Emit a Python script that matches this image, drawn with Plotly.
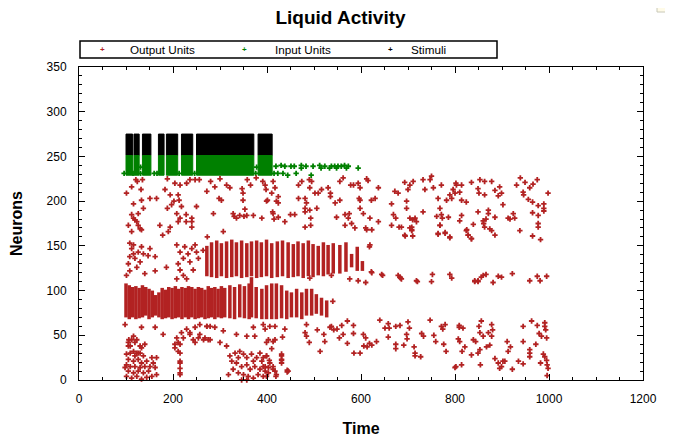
import plotly.graph_objects as go

# ---------------- data ----------------
# Stimuli neurons fire in blocks: start / end times; neuron span
stim_start = [100, 117, 135, 169, 186, 218, 250, 381]
stim_end = [114, 128, 153, 181, 210, 242, 372, 411]
stim_lo, stim_hi = 251, 275

# Input units: dense blocks (same time blocks) + sparse spikes
input_lo, input_hi = 229, 251
input_sparse = [(96, 231), (115, 231), (131, 231), (131, 238), (160, 231), (166, 231),
                (213, 231), (246, 231), (376, 231), (378, 238), (415, 231),
                (419, 239), (423, 231), (430, 240), (434, 231), (438, 239), (444, 229),
                (451, 239), (458, 239), (462, 231), (473, 240), (473, 237), (483, 239),
                (494, 229), (498, 239), (512, 240), (515, 237), (523, 239), (533, 237),
                (537, 239), (544, 239), (548, 237), (551, 239), (558, 239), (565, 240),
                (569, 237), (573, 239), (594, 237)]

# Output units: dense burst columns (time, lowest neuron, highest neuron)
band1_t = [100, 107, 114, 121, 128, 135, 142, 149, 156, 163, 170, 177, 184, 191, 198,
           205, 212, 219, 226, 233, 240, 247, 254, 261, 268, 275, 282, 289, 296, 303,
           310, 321, 331, 342, 352, 362, 367, 377, 389, 399, 410, 420, 431, 442, 452,
           463, 474, 484, 495, 505, 516, 527]
band1_lo = [70, 68, 70, 68, 69, 70, 72, 68, 70, 72, 70, 68, 69, 70, 68,
            69, 70, 68, 70, 68, 70, 68, 69, 70, 68, 69, 70, 68, 70, 69,
            70, 69, 68, 70, 69, 68, 70, 69, 68, 68, 68, 68, 69, 68, 70,
            70, 68, 72, 72, 74, 72, 70]
band1_hi = [108, 106, 104, 105, 103, 106, 104, 102, 100, 95, 98, 103, 101, 104, 103,
            105, 102, 104, 103, 105, 104, 102, 104, 103, 101, 105, 103, 104, 102, 105,
            103, 106, 104, 107, 105, 108, 115, 104, 102, 106, 108, 108, 106, 100, 98,
            102, 98, 102, 102, 96, 92, 89]

band2_t = [272, 282, 293, 303, 314, 325, 335, 346, 357, 367, 378, 388, 399, 410, 422,
           433, 445, 456, 466, 477, 488, 498, 509, 520, 530, 541, 555, 568, 580, 592, 603]
band2_lo = [116, 115, 114, 116, 114, 115, 116, 114, 115, 116, 114, 115, 116, 114, 115,
            116, 114, 115, 116, 114, 116, 115, 117, 116, 118, 119, 119, 121, 126, 122, 122]
band2_hi = [150, 154, 156, 153, 155, 157, 154, 156, 153, 155, 156, 154, 157, 153, 155,
            156, 154, 152, 155, 153, 156, 152, 150, 154, 151, 153, 151, 154, 141, 149, 133]

# Output units: isolated spikes (time, neuron)
output_upper = [
    (101, 209), (112, 216), (121, 224), (132, 213), (135, 224), (124, 222), (133, 201),
    (137, 192), (151, 203), (116, 197), (112, 185), (116, 181), (119, 179), (126, 186),
    (123, 177), (126, 173), (130, 169), (133, 168), (105, 173), (112, 166), (165, 203),
    (178, 162), (172, 173), (183, 213), (188, 225), (194, 207), (188, 192), (197, 196),
    (204, 220), (202, 200), (211, 207), (215, 218), (213, 201), (208, 186), (218, 194),
    (215, 181), (211, 177), (229, 220), (228, 185), (228, 177), (240, 177), (240, 171),
    (240, 181), (236, 224), (247, 224), (250, 194), (256, 224), (272, 211), (273, 160),
    (286, 186), (289, 216), (298, 203), (303, 201), (307, 166), (321, 215), (328, 186),
    (330, 183), (335, 181), (342, 184), (347, 214), (349, 209), (349, 201), (353, 191),
    (351, 183), (357, 184), (371, 184), (377, 226), (389, 181), (391, 222), (398, 213),
    (399, 200), (410, 209), (412, 188), (415, 180), (420, 200), (358, 224), (365, 218),
    (314, 218), (300, 225), (280, 222), (194, 171), (190, 166),
    (396, 218), (401, 201), (413, 222), (417, 215), (424, 205), (424, 198), (413, 186),
    (424, 182), (438, 177), (450, 185), (459, 185), (467, 203), (467, 218), (474, 222),
    (481, 203), (481, 192), (481, 188), (481, 171), (490, 224), (491, 215), (495, 222),
    (484, 198), (491, 190), (493, 181), (493, 173), (502, 209), (506, 192), (509, 209),
    (516, 213), (530, 215), (535, 209), (535, 205), (545, 198), (548, 182), (555, 222),
    (555, 201), (562, 226), (566, 185), (573, 181), (575, 186), (578, 218), (584, 218),
    (594, 220), (598, 215), (596, 203), (598, 201), (580, 175), (587, 170), (598, 192),
    (605, 186), (612, 225), (615, 223), (610, 170), (619, 181), (622, 201), (630, 203),
    (637, 215), (637, 177), (665, 197), (669, 185), (672, 211), (674, 181), (679, 209),
    (681, 171), (693, 221), (697, 200), (697, 192), (700, 213), (704, 218), (704, 181),
    (708, 171), (711, 222), (710, 179), (708, 168), (693, 162), (715, 181), (718, 177),
    (732, 224), (736, 213), (732, 188), (747, 224), (750, 228), (754, 215), (764, 203),
    (768, 192), (761, 183), (771, 218), (771, 185), (773, 181), (786, 182), (782, 201),
    (789, 207), (796, 213), (803, 218), (768, 173), (764, 164), (779, 164), (789, 160),
    (566, 173), (612, 168), (623, 168), (665, 173), (686, 171), (704, 170), (708, 167),
    (694, 161), (710, 161), (768, 173), (764, 163), (779, 165), (789, 159), (825, 168),
    (828, 162), (835, 158),
    (802, 220), (810, 210), (814, 218), (800, 209), (793, 203), (814, 201), (824, 199),
    (835, 221), (853, 224), (863, 222), (878, 222), (849, 214), (851, 209), (863, 207),
    (885, 212), (895, 216), (899, 209), (892, 206), (902, 196), (814, 184), (810, 178),
    (824, 167), (828, 162), (835, 158), (839, 174), (849, 188), (860, 178), (861, 175),
    (863, 171), (866, 180), (871, 190), (871, 186), (874, 169), (878, 167), (885, 162),
    (885, 182), (913, 181), (917, 180), (924, 186), (927, 181), (938, 167), (931, 218),
    (939, 226), (949, 221), (945, 210), (946, 207), (956, 202), (959, 215), (966, 219),
    (975, 224), (965, 199), (977, 195), (989, 197), (989, 192), (989, 189), (998, 209),
    (965, 187), (977, 184), (977, 175), (977, 171), (965, 161), (982, 157)]

output_middle = [
    (108, 153), (112, 147), (116, 141), (108, 138), (119, 136), (126, 143), (133, 149),
    (137, 141), (130, 132), (105, 130), (123, 126), (151, 147), (147, 139), (162, 138),
    (162, 122), (186, 126), (140, 119), (108, 122), (101, 117), (116, 151),
    (208, 151), (215, 143), (225, 149), (232, 141), (240, 147), (247, 151), (250, 143),
    (222, 136), (211, 130), (236, 132), (215, 123), (222, 117), (229, 113), (243, 123),
    (254, 136), (264, 145), (208, 113),
    (618, 149), (619, 151), (622, 121), (644, 118), (683, 115), (686, 113), (718, 111),
    (750, 110), (752, 118), (789, 118), (793, 114), (491, 114), (537, 117), (576, 113),
    (594, 111), (610, 109), (623, 120), (646, 117), (679, 117), (684, 114), (720, 110),
    (842, 110), (849, 110), (540, 88),
    (842, 111), (849, 111), (856, 115), (860, 117), (866, 118), (881, 109), (892, 116),
    (899, 115), (922, 119), (959, 111), (975, 116), (981, 111), (995, 116)]

output_lower = [
    (98, 62), (106, 45), (105, 38), (116, 49), (123, 45), (133, 36), (126, 30), (133, 59),
    (162, 59), (179, 51), (211, 42), (204, 36), (215, 30), (222, 47), (229, 57), (236, 53),
    (247, 59), (257, 62), (272, 60), (243, 45), (254, 47), (268, 47), (279, 45), (289, 59),
    (307, 55), (300, 42), (314, 38), (335, 51), (357, 49), (371, 59), (374, 49), (396, 57),
    (403, 45), (215, 8), (215, 13),
    (571, 66), (640, 67), (651, 58), (658, 63), (660, 58), (674, 60), (683, 61), (700, 65),
    (703, 58), (747, 67), (729, 52), (733, 49), (774, 57), (771, 60), (779, 62), (809, 61),
    (392, 62), (406, 60), (417, 60), (438, 57), (484, 62), (481, 53), (484, 49), (490, 42),
    (513, 32), (507, 56), (521, 51), (523, 43), (534, 59), (537, 60), (542, 56), (549, 57),
    (554, 47), (559, 61), (562, 51), (571, 41), (584, 61), (584, 52), (585, 30), (598, 30),
    (605, 51), (610, 47), (606, 38), (613, 37), (618, 41), (623, 39), (633, 43), (658, 48),
    (674, 40), (674, 35), (691, 39), (698, 46), (697, 51), (713, 37), (715, 30), (715, 27),
    (727, 26), (755, 50), (759, 43), (776, 40), (781, 32), (807, 46), (802, 15),
    (399, 42), (410, 35), (413, 43), (417, 45), (433, 48), (385, 30), (392, 25), (399, 27),
    (405, 22), (431, 27), (431, 22), (431, 19), (443, 11), (443, 9), (392, 15), (403, 14),
    (413, 15), (417, 10), (419, 4), (399, 4), (396, 10),
    (101, 29), (109, 30), (119, 27), (130, 30), (137, 27), (105, 23), (116, 21), (126, 23),
    (133, 19), (144, 21), (155, 25), (109, 15), (119, 15), (130, 14), (140, 15), (151, 15),
    (162, 14), (105, 10), (116, 8), (126, 10), (137, 8), (148, 10), (112, 2), (123, 4),
    (133, 1), (144, 3), (155, 4), (165, 6), (101, 17), (101, 4), (98, 14), (158, 19),
    (165, 25), (112, 45), (109, 38), (119, 42), (130, 38), (140, 40), (105, 42), (116, 32),
    (123, 30),
    (321, 27), (332, 30), (342, 32), (350, 29), (357, 25), (367, 29), (378, 25), (389, 21),
    (399, 27), (325, 21), (335, 19), (346, 15), (357, 17), (364, 12), (374, 15), (385, 12),
    (396, 15), (328, 12), (339, 8), (350, 6), (360, 4), (371, 2), (381, 6), (392, 4),
    (346, 0), (357, 0), (403, 8), (406, 19), (413, 12), (420, 6), (431, 29), (431, 23),
    (445, 10), (318, 6), (339, 25), (371, 21),
    (208, 47), (204, 40), (215, 40), (211, 32), (215, 21), (215, 19), (218, 53), (247, 42),
    (257, 51), (265, 45), (275, 45), (279, 60), (272, 60), (236, 51), (215, 6),
    (809, 59), (817, 58), (810, 43), (821, 37), (815, 32), (800, 14), (814, 17), (835, 28),
    (839, 45), (844, 43), (849, 30), (853, 34), (851, 60), (856, 66), (853, 53), (860, 49),
    (867, 37), (871, 53), (878, 62), (880, 56), (878, 49), (874, 39), (854, 17), (885, 24),
    (892, 19), (899, 15), (902, 21), (906, 21), (895, 13), (911, 43), (918, 37), (913, 32),
    (922, 12), (935, 21), (945, 18), (945, 43), (945, 60), (959, 34), (959, 30), (959, 26),
    (963, 66), (972, 40), (975, 61), (979, 52), (982, 19), (984, 49), (988, 29), (991, 64),
    (991, 60), (993, 56), (995, 47), (991, 26), (995, 22), (996, 17), (998, 13), (996, 5)]

legend_names = ["Output Units", "Input Units", "Stimuli"]

RED = "#B22222"
GREEN = "#008000"
BLACK = "#000000"
FONT = "Liberation Sans, Arial, sans-serif"


def blocks(starts, ends, lo, hi):
    xs, ys = [], []
    for a, b in zip(starts, ends):
        xs += [a, b, b, a, a, None]
        ys += [lo, lo, hi, hi, lo, None]
    return xs, ys


def columns(ts, los, his):
    xs, ys = [], []
    for t, lo, hi in zip(ts, los, his):
        xs += [t, t, None]
        ys += [lo, hi, None]
    return xs, ys


fig = go.Figure()

# stimuli blocks
sx, sy = blocks(stim_start, stim_end, stim_lo, stim_hi)
fig.add_trace(go.Scatter(x=sx, y=sy, mode="lines", fill="toself", fillcolor=BLACK,
                         line=dict(color=BLACK, width=1), showlegend=False, hoverinfo="skip"))
# input blocks
ix, iy = blocks(stim_start, stim_end, input_lo, input_hi)
fig.add_trace(go.Scatter(x=ix, y=iy, mode="lines", fill="toself", fillcolor=GREEN,
                         line=dict(color=GREEN, width=1), showlegend=False, hoverinfo="skip"))
fig.add_trace(go.Scatter(x=[p[0] for p in input_sparse], y=[p[1] for p in input_sparse],
                         mode="markers", marker=dict(symbol="cross", size=4.5, color=GREEN,
                                                     line=dict(width=0)),
                         showlegend=False))

# output burst columns
for ts, los, his in [(band1_t, band1_lo, band1_hi), (band2_t, band2_lo, band2_hi)]:
    cx, cy = columns(ts, los, his)
    fig.add_trace(go.Scatter(x=cx, y=cy, mode="lines", line=dict(color=RED, width=3.5),
                             showlegend=False, hoverinfo="skip"))

# output isolated spikes
pts = output_upper + output_middle + output_lower
fig.add_trace(go.Scatter(x=[p[0] for p in pts], y=[p[1] for p in pts], mode="markers",
                         marker=dict(symbol="cross", size=4.5, color=RED, line=dict(width=0)),
                         showlegend=False, cliponaxis=False))

axis_common = dict(showline=True, linecolor="black", linewidth=1, mirror="allticks",
                   ticks="inside", ticklen=6, tickcolor="black", showgrid=False,
                   zeroline=False, automargin=False,
                   tickfont=dict(family=FONT, size=12, color="black"))

fig.update_layout(
    width=665, height=430,
    margin=dict(l=71, r=30, t=59, b=58),
    paper_bgcolor="white", plot_bgcolor="white",
    showlegend=False,
    title=dict(text="<b>Liquid Activity</b>", x=0.5, xref="container", xanchor="center",
               y=1 - 9 / 430, yref="container", yanchor="middle",
               font=dict(family=FONT, size=19, color="black")),
    xaxis=dict(range=[0, 1200], dtick=200, tick0=0, ticklabelstandoff=8,
               minor=dict(dtick=50, ticklen=3, ticks="inside", tickcolor="black"),
               title=dict(text="<b>Time</b>", standoff=17,
                          font=dict(family=FONT, size=16, color="black")),
               **axis_common),
    yaxis=dict(range=[0, 350], dtick=50, tick0=0, ticklabelstandoff=9,
               minor=dict(dtick=10, ticklen=3, ticks="inside", tickcolor="black"),
               title=dict(text="<b>Neurons</b>", standoff=19,
                          font=dict(family=FONT, size=16, color="black")),
               **axis_common),
    font=dict(family=FONT, color="black"),
)

# legend box drawn above the plot (paper coordinates relative to the plot area)
PW, PH, PL, PB = 564.0, 313.0, 79.0, 380.0


def px_x(px):
    return (px - PL) / PW


def px_y(py):
    return (PB - py) / PH


fig.add_shape(type="rect", xref="paper", yref="paper",
              x0=px_x(80), x1=px_x(497), y0=px_y(58), y1=px_y(41),
              line=dict(color="black", width=1.5), fillcolor="white", layer="above")
legend_cols = [RED, GREEN, BLACK]
marker_px = [102, 244, 390]
text_px = [162, 303, 428]
for name, col, mx, tx in zip(legend_names, legend_cols, marker_px, text_px):
    fig.add_annotation(x=px_x(mx), y=px_y(49.5), xref="paper", yref="paper",
                       text="<b>+</b>", showarrow=False, xanchor="center", yanchor="middle",
                       font=dict(family=FONT, size=8, color=col))
    fig.add_annotation(x=px_x(tx), y=px_y(49.5), xref="paper", yref="paper",
                       text=name, showarrow=False, xanchor="center", yanchor="middle",
                       font=dict(family=FONT, size=11.7, color="black"))

# small window-corner decoration at the top right
fig.add_shape(type="rect", xref="paper", yref="paper",
              x0=px_x(657), x1=px_x(690), y0=px_y(12), y1=px_y(2),
              fillcolor="#fffbe8", line=dict(color="#c8c8b8", width=1), layer="above")

fig.write_html("out.html")
